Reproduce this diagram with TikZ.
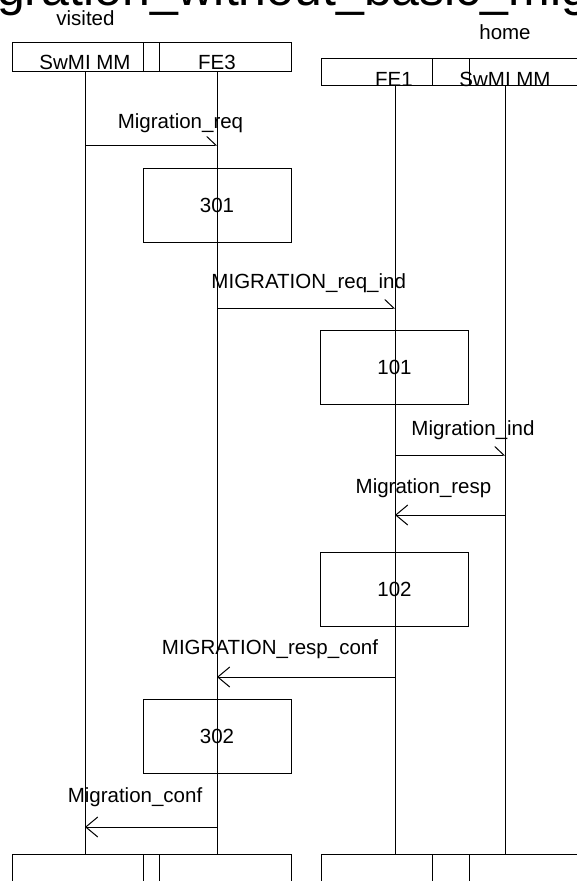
\documentclass[tikz,border=0pt]{standalone}
\usepackage{fontspec}
\setmainfont{Liberation Sans}
\usepackage{tikz}
\usetikzlibrary{arrows.meta,positioning}

\begin{document}
\begin{tikzpicture}[
      x=1pt, y=-1pt,
      font=\fontsize{20.5}{24}\selectfont,
      cell/.style={draw, line width=1pt, inner sep=0pt, minimum height=29pt},
      pbox/.style={draw, line width=1pt, inner sep=0pt,
                   minimum width=148pt, minimum height=74pt},
      txt/.style={anchor=base, inner sep=0pt},
      life/.style={line width=1pt},
      msgr/.style={-{Straight Barb[harpoon, length=9pt, width=17pt]}, line width=1pt},
      msgl/.style={-{Straight Barb[length=12pt, width=20pt]}, line width=1pt},
    ]
      \useasboundingbox (0,0) rectangle (576,881);

      % Title and domains
      \node[anchor=base west, inner sep=0pt, font=\fontsize{50}{60}\selectfont]
            (title) at (-3,5) {gration\_without\_basic\_mig};
      \node[txt] (visited) at (85.5,25) {visited};
      \node[txt] (home)    at (505,39)  {home};

      % Headers
      \node[cell, minimum width=131pt] (vmmh)  at (77.5,56.5) {};
      \node[cell, minimum width=16pt]  (vgaph) at (151,56.5)  {};
      \node[cell, minimum width=132pt] (fe3h)  at (225,56.5)  {};
      \node[cell, minimum width=111pt, minimum height=27pt] (fe1h)  at (376.5,71.5) {};
      \node[cell, minimum width=37pt,  minimum height=27pt] (hgaph) at (450.5,71.5) {};
      \node[cell, minimum width=131pt, minimum height=27pt] (hmmh)  at (534.5,71.5) {};
      \node[txt] at (85,69)  {SwMI MM};
      \node[txt] at (217,69) {FE3};
      \node[txt] at (394,86) {FE1};
      \node[txt] at (505,86) {SwMI MM};

      % Footers
      \node[cell, minimum width=131pt, anchor=north] (vmmf)  at (77.5,854) {};
      \node[cell, minimum width=16pt,  anchor=north] (vgapf) at (151,854)  {};
      \node[cell, minimum width=132pt, anchor=north] (fe3f)  at (225,854)  {};
      \node[cell, minimum width=111pt, anchor=north] (fe1f)  at (376.5,854) {};
      \node[cell, minimum width=37pt,  anchor=north] (hgapf) at (450.5,854) {};
      \node[cell, minimum width=131pt, anchor=north] (hmmf)  at (534.5,854) {};

      % Lifelines
      \coordinate (vmm) at (85,71);
      \coordinate (fe3) at (217,71);
      \coordinate (fe1) at (395,85);
      \coordinate (hmm) at (505,85);
      \draw[life] (vmm) -- (vmm |- vmmf.north);
      \draw[life] (fe3) -- (fe3 |- fe3f.north);
      \draw[life] (fe1) -- (fe1 |- fe1f.north);
      \draw[life] (hmm) -- (hmm |- hmmf.north);

      % Processing boxes
      \node[pbox] (p301) at (217,205)   {301};
      \node[pbox] (p101) at (394.5,367) {101};
      \node[pbox] (p102) at (394.5,589) {102};
      \node[pbox] (p302) at (217,736.5) {302};

      % Messages
      \draw[msgr] (vmm |- 0,145) -- (fe3 |- 0,145);
      \node[txt] at (180.5,128) {Migration\_req};
      \draw[msgr] (fe3 |- 0,308) -- (fe1 |- 0,308);
      \node[txt] at (308.7,288) {MIGRATION\_req\_ind};
      \draw[msgr] (fe1 |- 0,455) -- (hmm |- 0,455);
      \node[txt] at (473,435) {Migration\_ind};
      \draw[msgl] (hmm |- 0,515) -- (fe1 |- 0,515);
      \node[txt] at (423.5,493) {Migration\_resp};
      \draw[msgl] (fe1 |- 0,677) -- (fe3 |- 0,677);
      \node[txt] at (270,654) {MIGRATION\_resp\_conf};
      \draw[msgl] (fe3 |- 0,827) -- (vmm |- 0,827);
      \node[txt] at (135,802) {Migration\_conf};
    \end{tikzpicture}
\end{document}
